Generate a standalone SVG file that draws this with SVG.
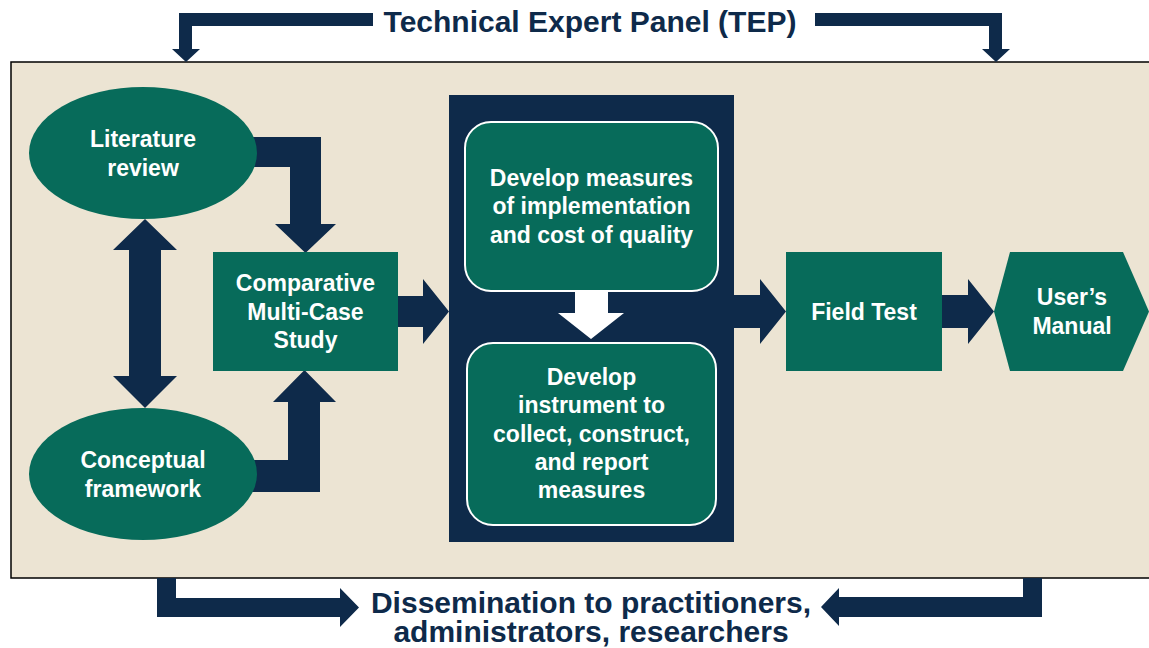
<svg xmlns="http://www.w3.org/2000/svg" width="1149" height="648" viewBox="0 0 1149 648">
<style>
.nv{fill:#0E2A4A}
.gr{fill:#076B5A}
.lbl{font-family:"Liberation Sans",Arial,sans-serif;font-weight:bold;fill:#FFFFFF;font-size:23px;text-anchor:middle}
.big{font-family:"Liberation Sans",Arial,sans-serif;font-weight:bold;fill:#0E2A4A;font-size:30px;text-anchor:middle}
.rb{fill:#076B5A;stroke:#FFFFFF;stroke-width:2}
</style>
<rect x="0" y="0" width="1149" height="648" fill="#FFFFFF"/>
<rect id="panel" x="11" y="62" width="1150" height="516" fill="#ECE4D3" stroke="#000000" stroke-width="1.5"/>
<g id="tep">
<text class="big" x="590" y="32">Technical Expert Panel (TEP)</text>
</g>
<g id="dissemination">
<text class="big" x="591" y="613">Dissemination to practitioners,</text>
<text class="big" x="591" y="642">administrators, researchers</text>
</g>
<g id="connectors" class="nv">
<polygon points="373,13 179,13 179,49 172,49 186,62 200,49 192,49 192,26 373,26"/>
<polygon points="815,13 1002,13 1002,49 1010,49 996,62 982,49 989,49 989,26 815,26"/>
<polygon points="240,137 321,137 321,224 336,224 305.5,253 275,224 290,224 290,167 240,167"/>
<polygon points="240,492 320,492 320,402 336,402 304.5,370 273,402 288,402 288,460 240,460"/>
<polygon points="145,219 177,250 161,250 161,376 177,376 145,408 113,376 129,376 129,250 113,250"/>
<polygon points="398,296 423,296 423,279 449,311.5 423,344 423,327 398,327"/>
<polygon points="734,295 760,295 760,279 786,311.5 760,344 760,328 734,328"/>
<polygon points="942,295 968,295 968,279 994,311.5 968,344 968,328 942,328"/>
<polygon points="157,578 176,578 176,598 340,598 340,588 359,607.5 340,627 340,617 157,617"/>
<polygon points="1042,578 1023,578 1023,597 839,597 839,588 821,607 839,626 839,617 1042,617"/>
</g>
<g id="literature-review">
<ellipse class="gr" cx="143" cy="153" rx="114" ry="66"/>
<text class="lbl" x="143" y="147">Literature</text>
<text class="lbl" x="143" y="176">review</text>
</g>
<g id="conceptual-framework">
<ellipse class="gr" cx="143" cy="474" rx="114" ry="66"/>
<text class="lbl" x="143" y="468">Conceptual</text>
<text class="lbl" x="143" y="497">framework</text>
</g>
<g id="comparative">
<rect class="gr" x="213" y="252" width="185" height="119"/>
<text class="lbl" x="305.5" y="291">Comparative</text>
<text class="lbl" x="305.5" y="320">Multi-Case</text>
<text class="lbl" x="305.5" y="348">Study</text>
</g>
<g id="develop-group">
<rect class="nv" x="449" y="95" width="285" height="447"/>
</g>
<g id="develop-measures">
<rect class="rb" x="465" y="122" width="253" height="169" rx="26"/>
<text class="lbl" x="591.5" y="186">Develop measures</text>
<text class="lbl" x="591.5" y="214">of implementation</text>
<text class="lbl" x="591.5" y="243">and cost of quality</text>
</g>
<g id="inner-arrow">
<polygon fill="#FFFFFF" points="575,291 608,291 608,313 624,313 591,339 558,313 575,313"/>
</g>
<g id="develop-instrument">
<rect class="rb" x="467" y="343" width="249" height="182" rx="26"/>
<text class="lbl" x="591.5" y="385">Develop</text>
<text class="lbl" x="591.5" y="413">instrument to</text>
<text class="lbl" x="591.5" y="442">collect, construct,</text>
<text class="lbl" x="591.5" y="470">and report</text>
<text class="lbl" x="591.5" y="498">measures</text>
</g>
<g id="field-test">
<rect class="gr" x="786" y="252" width="156" height="119"/>
<text class="lbl" x="864" y="320">Field Test</text>
</g>
<g id="users-manual">
<polygon class="gr" points="994,311.5 1010,252 1123,252 1149,311.5 1123,371 1010,371"/>
<text class="lbl" x="1072" y="305">User’s</text>
<text class="lbl" x="1072" y="334">Manual</text>
</g>
</svg>
